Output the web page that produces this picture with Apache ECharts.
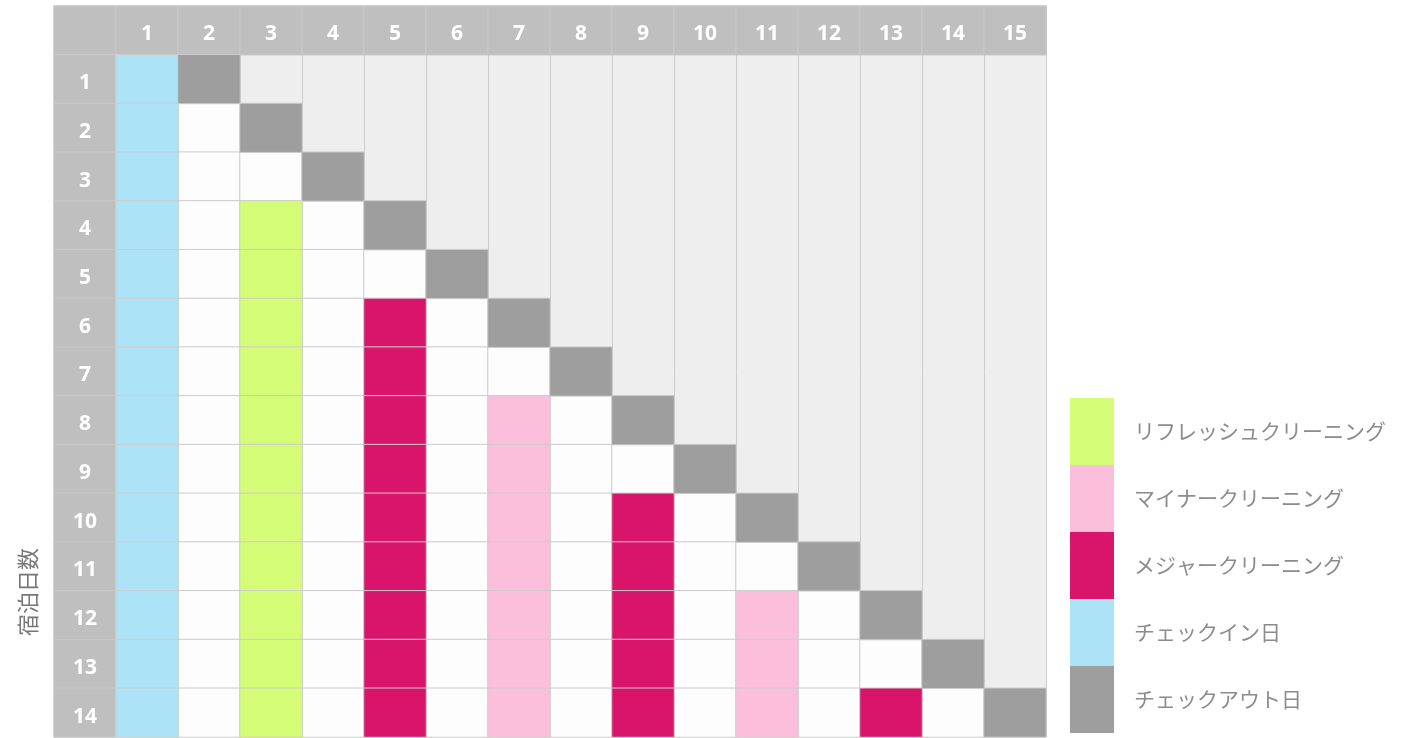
<!DOCTYPE html>
<html>
<head>
<meta charset="utf-8">
<script src="https://cdn.jsdelivr.net/npm/echarts@6/dist/echarts.min.js"></script>
<style>
  html, body { margin: 0; padding: 0; background: #fff; }
  #chart { width: 1408px; height: 738px; }
</style>
</head>
<body>
<div id="chart"></div>
<script>
// days of the stay (columns) and number of nights (rows)
var dayLabels = ["1", "2", "3", "4", "5", "6", "7", "8", "9", "10", "11", "12", "13", "14", "15"];
var nightLabels = ["1", "2", "3", "4", "5", "6", "7", "8", "9", "10", "11", "12", "13", "14"];

// one string per row, one char per day
// I = check-in, O = check-out, R = refresh, m = minor, M = major, . = nothing, - = after stay
var schedule = [
  "IO-------------",
  "I.O------------",
  "I..O-----------",
  "I.R.O----------",
  "I.R..O---------",
  "I.R.M.O--------",
  "I.R.M..O-------",
  "I.R.M.m.O------",
  "I.R.M.m..O-----",
  "I.R.M.m.M.O----",
  "I.R.M.m.M..O---",
  "I.R.M.m.M.m.O--",
  "I.R.M.m.M.m..O-",
  "I.R.M.m.M.m.M.O"
];

var taskNames = ["チェックアウト日", "チェックイン日", "メジャークリーニング", "マイナークリーニング", "リフレッシュクリーニング"];
var taskCodes = { O: 1, I: 2, M: 3, m: 4, R: 5 };
var taskColors = ["#9e9e9e", "#ade3f7", "#d9156b", "#fcbfdb", "#d5fc77"];

var headerData = [[0, 0, 0]];
dayLabels.forEach(function (d, i) { headerData.push([i + 1, 0, +d]); });
nightLabels.forEach(function (n, i) { headerData.push([0, i + 1, +n]); });

var emptyData = [];
var taskData = [];
schedule.forEach(function (row, r) {
  row.split("").forEach(function (c, d) {
    if (c === ".") emptyData.push([d + 1, r + 1, 0]);
    else if (taskCodes[c]) taskData.push([d + 1, r + 1, taskCodes[c]]);
  });
});

var cellBorder = { borderColor: "#cccccc", borderWidth: 1 };

var option = {
  animation: false,
  grid: {
    left: 54, top: 6, width: 992, height: 731,
    show: true, backgroundColor: "#eeeeee", borderWidth: 0
  },
  xAxis: {
    type: "category",
    data: [""].concat(dayLabels),
    axisLine: { show: false },
    axisTick: { show: false },
    axisLabel: { show: false },
    splitLine: { show: true, lineStyle: { color: "#cccccc", width: 1 } }
  },
  yAxis: { type: "category", data: [""].concat(nightLabels), inverse: true, show: false },
  visualMap: {
    type: "piecewise",
    seriesIndex: 2,
    orient: "vertical",
    align: "left",
    left: 1055,
    top: 383,
    itemWidth: 44,
    itemHeight: 67,
    itemGap: 0,
    itemSymbol: "rect",
    textGap: 20,
    selectedMode: false,
    textStyle: { color: "#8c8c8c", fontSize: 21, fontFamily: "Noto Sans CJK JP" },
    pieces: taskNames.map(function (name, i) {
      return { value: i + 1, label: name, color: taskColors[i] };
    })
  },
  graphic: [
    {
      type: "text",
      x: 28,
      y: 592,
      rotation: Math.PI / 2,
      style: {
        text: "宿泊日数",
        fill: "#777777",
        font: "22px 'Noto Sans CJK JP'",
        align: "center",
        verticalAlign: "middle"
      }
    }
  ],
  series: [
    {
      type: "heatmap",
      data: headerData,
      itemStyle: { color: "#bfbfbf", borderColor: "#c9c9c9", borderWidth: 1 },
      label: {
        show: true,
        color: "#ffffff",
        fontSize: 21,
        fontWeight: "bold",
        fontFamily: "Open Sans",
        offset: [0, 4],
        formatter: function (p) { return p.value[2] ? String(p.value[2]) : ""; }
      },
      emphasis: { disabled: true }
    },
    {
      type: "heatmap",
      data: emptyData,
      itemStyle: { color: "#fdfdfd", borderColor: "#cccccc", borderWidth: 1 },
      emphasis: { disabled: true }
    },
    {
      type: "heatmap",
      data: taskData,
      itemStyle: cellBorder,
      emphasis: { disabled: true }
    }
  ]
};

var myChart = echarts.init(document.getElementById("chart"));
myChart.setOption(option);
</script>
</body>
</html>
